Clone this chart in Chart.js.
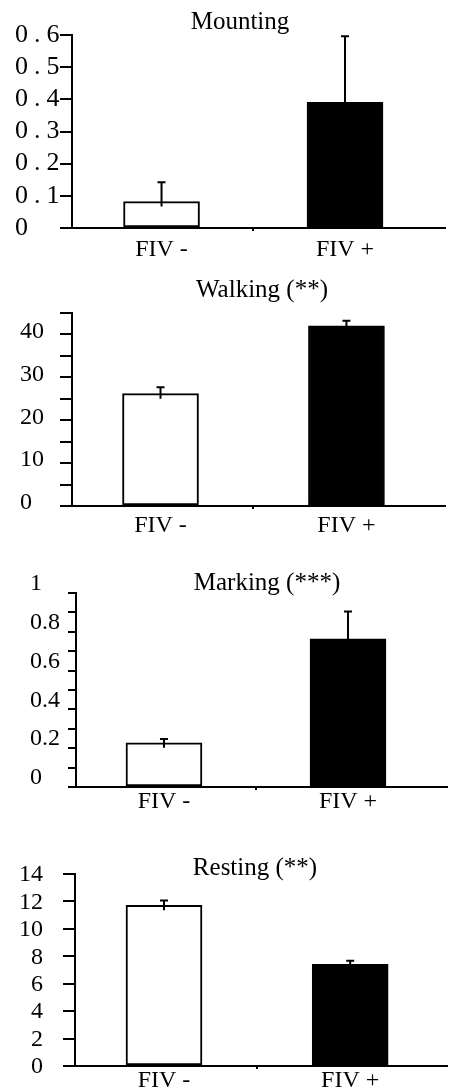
<!DOCTYPE html>
<html><head><meta charset="utf-8">
<script src="https://cdn.jsdelivr.net/npm/chart.js@4"></script>
<style>
html,body{margin:0;padding:0;background:#fff;}
#wrap{position:relative;width:449px;height:1090px;overflow:hidden;background:#fff;}
canvas{position:absolute;left:0;}
</style></head><body>
<div id="wrap">
<canvas id="c1" width="449" height="270" style="top:0px"></canvas>
<canvas id="c2" width="449" height="270" style="top:270px"></canvas>
<canvas id="c3" width="449" height="280" style="top:540px"></canvas>
<canvas id="c4" width="449" height="278" style="top:820px"></canvas>
</div>
<script>
// ---- data ----
const categories = ['FIV -', 'FIV +'];

const mountingTitle = 'Mounting';
const mountingMeans = [0.082, 0.391];
const mountingErr = [0.060, 0.205];
const mountingTicks = ['0', '0.1', '0.2', '0.3', '0.4', '0.5', '0.6'];

const walkingTitle = 'Walking (**)';
const walkingMeans = [26.2, 42.0];
const walkingErr = [1.5, 1.2];
const walkingTicks = ['0', '', '10', '', '20', '', '30', '', '40', ''];

const markingTitle = 'Marking (***)';
const markingMeans = [0.228, 0.764];
const markingErr = [0.020, 0.141];
const markingTicks = ['0', '', '0.2', '', '0.4', '', '0.6', '', '0.8', '', '1'];

const restingTitle = 'Resting (**)';
const restingMeans = [11.72, 7.42];
const restingErr = [0.34, 0.26];
const restingTicks = ['0', '2', '4', '6', '8', '10', '12', '14'];

const barFills = ['#ffffff', '#000000'];
const FONT = "'Liberation Serif', 'Times New Roman', serif";

// ---- plugins ----
const errorBarPlugin = {
  id: 'errorBars',
  afterDatasetsDraw(chart) {
    const ctx = chart.ctx;
    const meta = chart.getDatasetMeta(0);
    const ys = chart.scales.y;
    const ds = chart.data.datasets[0];
    ctx.save();
    ctx.strokeStyle = '#000';
    ctx.lineWidth = 2;
    meta.data.forEach((bar, i) => {
      const v = ds.means[i], e = ds.errors[i];
      const yTop = ys.getPixelForValue(v + e);
      const yBar = ys.getPixelForValue(v);
      ctx.beginPath();
      ctx.moveTo(bar.x, yBar + 5);
      ctx.lineTo(bar.x, yTop);
      ctx.moveTo(bar.x - 4, yTop);
      ctx.lineTo(bar.x + 4, yTop);
      ctx.stroke();
    });
    ctx.restore();
  }
};

// letter spacing for the y tick labels (scan typography); x labels are drawn on a later layer
const spacingPlugin = {
  id: 'tickSpacing',
  beforeDraw(chart, args, opts) { chart.ctx.letterSpacing = (opts.px || 0) + 'px'; },
  beforeDatasetsDraw(chart) { chart.ctx.letterSpacing = '0px'; }
};

const panelTitlePlugin = {
  id: 'panelTitle',
  afterDraw(chart, args, opts) {
    const ctx = chart.ctx;
    ctx.save();
    ctx.letterSpacing = '0px';
    ctx.fillStyle = '#000';
    ctx.font = '25px ' + FONT;
    ctx.textAlign = 'center';
    ctx.textBaseline = 'middle';
    ctx.fillText(opts.text, opts.x, opts.y);
    ctx.restore();
  }
};

function makePanel(id, title, means, errs, max, step, tickLabels, g) {
  return new Chart(document.getElementById(id), {
    type: 'bar',
    data: {
      datasets: [{
        data: means.map((m, i) => ({ x: i, y: m })),
        means: means,
        errors: errs,
        backgroundColor: barFills,
        borderColor: '#000',
        borderWidth: 2,
        borderSkipped: false,
        barThickness: 76
      }]
    },
    options: {
      responsive: false,
      animation: false,
      devicePixelRatio: 1,
      layout: { padding: { top: g.padTop, right: g.padRight, left: g.padLeft, bottom: 0 } },
      plugins: {
        legend: { display: false },
        tooltip: { enabled: false },
        title: { display: false },
        panelTitle: { text: title, x: g.titleX, y: g.titleY },
        tickSpacing: { px: g.letterSpacing || 0 }
      },
      scales: {
        x: {
          type: 'linear',
          min: g.xMin, max: g.xMax,
          offset: false,
          border: { display: true, color: '#000', width: 2 },
          grid: {
            display: true, drawOnChartArea: false, drawTicks: true, tickLength: 3, lineWidth: 2, offset: false,
            color: (c) => (c.tick && c.tick.value === 0.5) ? '#000' : 'rgba(0,0,0,0)'
          },
          afterBuildTicks(s) { s.ticks = [{ value: 0 }, { value: 0.5 }, { value: 1 }]; },
          ticks: {
            z: 1,
            color: '#000', font: { family: FONT, size: 24, lineHeight: 1 }, padding: g.xPad,
            maxRotation: 0, autoSkip: false,
            callback: (v) => categories[v] ?? ''
          },
          afterFit(s) { s.height = g.xAxisH; }
        },
        y: {
          type: 'linear',
          min: 0, max: max,
          border: { display: true, color: '#000', width: 2 },
          grid: { display: true, drawOnChartArea: false, drawTicks: true, tickLength: g.yTickLen, color: '#000', lineWidth: 2 },
          ticks: {
            stepSize: step, autoSkip: false, color: '#000',
            font: { family: FONT, size: g.yFont || 24, lineHeight: 1 },
            padding: g.yPad, labelOffset: g.yLabelOffset, crossAlign: g.crossAlign,
            callback: (v, i) => tickLabels[i]
          },
          afterFit(s) { s.width = g.yAxisW; }
        }
      }
    },
    plugins: [spacingPlugin, errorBarPlugin, panelTitlePlugin]
  });
}

makePanel('c1', mountingTitle, mountingMeans, mountingErr, 0.6, 0.1, mountingTicks,
  { padTop: 35, padRight: 4, padLeft: 15, xAxisH: 42, yAxisW: 57, yTickLen: 12, yPad: 0, yLabelOffset: 0,
    crossAlign: 'far', yFont: 26, letterSpacing: 6, xPad: 7, xMin: -0.488, xMax: 1.545, titleX: 240, titleY: 22 });
makePanel('c2', walkingTitle, walkingMeans, walkingErr, 45, 5, walkingTicks,
  { padTop: 43, padRight: 4, padLeft: 20, xAxisH: 34, yAxisW: 52, yTickLen: 12, yPad: 5, yLabelOffset: -3,
    crossAlign: 'far', xPad: 5, xMin: -0.476, xMax: 1.53, titleX: 262, titleY: 20 });
makePanel('c3', markingTitle, markingMeans, markingErr, 1, 0.1, markingTicks,
  { padTop: 53, padRight: 2, padLeft: 30, xAxisH: 33, yAxisW: 46, yTickLen: 8, yPad: 6, yLabelOffset: -9,
    crossAlign: 'far', xPad: 0, xMin: -0.478, xMax: 1.538, titleX: 267, titleY: 43 });
makePanel('c4', restingTitle, restingMeans, restingErr, 14, 2, restingTicks,
  { padTop: 54, padRight: 2, padLeft: 0, xAxisH: 32, yAxisW: 75, yTickLen: 12, yPad: 20, yLabelOffset: 1,
    crossAlign: 'near', xPad: 0, xMin: -0.478, xMax: 1.52, titleX: 255, titleY: 48 });
</script>
</body></html>
